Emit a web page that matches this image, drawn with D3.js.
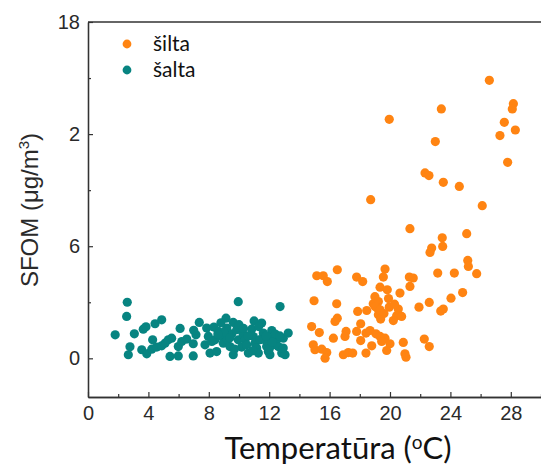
<!DOCTYPE html>
<html>
<head>
<meta charset="utf-8">
<script src="https://cdn.jsdelivr.net/npm/d3@7/dist/d3.min.js"></script>
<style>
  body { margin: 0; background: #fff; }
  svg { display: block; }
</style>
</head>
<body>
<script>
const width = 541
const height = 465

// šilta (warm) points: [temperature, SFOM]
const siltaTemp = [26.58, 28.17, 28.10, 23.40, 19.95, 27.57, 28.30, 27.28, 23.00, 27.79,
  22.32, 22.58, 23.53, 24.59, 18.72, 26.11, 21.32, 23.46, 25.08, 22.76,
  22.65, 23.49, 25.15, 25.19, 25.74, 24.26, 23.16, 15.15, 15.58, 15.85,
  16.51, 17.79, 18.19, 19.67, 19.56, 21.28, 21.54, 21.32, 19.34, 19.82,
  20.66, 24.81, 24.04, 22.60, 21.92, 23.53, 23.36, 14.97, 16.47, 18.89,
  19.23, 19.16, 19.95, 20.55, 18.46, 17.86, 19.23, 19.38, 20.44, 20.77,
  20.22, 16.51, 16.36, 18.06, 14.81, 15.32, 17.79, 18.41, 18.68, 19.07,
  19.34, 19.67, 17.09, 17.02, 16.25, 18.06, 19.45, 20.00, 20.88, 22.27,
  22.60, 18.79, 14.92, 15.03, 15.48, 15.81, 15.70, 16.91, 17.24, 17.53,
  18.41, 19.78, 20.99, 21.06, 19.01, 19.34, 19.60, 19.90, 20.30, 19.00]
const siltaSfom = [14.88, 13.63, 13.35, 13.35, 12.79, 12.63, 12.22, 11.92, 11.60, 10.49,
  9.92, 9.78, 9.42, 9.20, 8.49, 8.17, 6.94, 6.45, 6.67, 5.90,
  5.67, 5.99, 5.24, 4.92, 4.53, 4.56, 4.56, 4.42, 4.42, 4.11,
  4.74, 4.35, 4.11, 4.78, 4.35, 4.35, 4.30, 3.85, 3.81, 3.67,
  3.49, 3.52, 3.22, 2.99, 2.74, 2.64, 2.53, 3.08, 2.92, 2.92,
  3.04, 2.69, 2.74, 2.64, 2.56, 2.51, 2.33, 2.10, 2.28, 2.24,
  2.02, 2.15, 1.97, 1.85, 1.70, 1.38, 1.44, 1.35, 1.49, 1.31,
  1.17, 1.08, 1.44, 1.17, 1.08, 0.95, 0.90, 0.78, 0.85, 1.03,
  0.63, 0.67, 0.72, 0.46, 0.49, 0.31, 0.01, 0.19, 0.31, 0.28,
  0.28, 0.42, 0.24, 0.06, 2.77, 2.60, 2.40, 3.20, 2.90, 3.30]

// šalta (cold) points
const saltaTemp = [1.80, 2.60, 2.56, 2.67, 2.78, 3.07, 3.66, 3.84, 3.56, 3.89,
  4.44, 4.88, 4.28, 4.22, 4.55, 4.88, 5.10, 5.32, 5.54, 5.43,
  5.98, 5.98, 6.21, 6.54, 6.97, 6.97, 7.15, 7.37, 7.75, 7.86,
  7.97, 8.08, 8.34, 8.41, 8.52, 8.63, 8.85, 8.96, 9.14, 9.19,
  9.23, 9.40, 9.52, 9.62, 9.62, 9.85, 9.95, 9.95, 10.18, 10.28,
  10.40, 10.51, 10.62, 10.84, 10.95, 11.06, 11.17, 11.28, 11.50, 11.61,
  11.72, 11.83, 11.94, 12.17, 12.23, 12.27, 12.05, 12.50, 12.60, 12.72,
  12.83, 12.93, 13.05, 13.26, 12.93, 9.00, 10.60, 11.40, 12.40, 8.20,
  7.00, 6.10, 10.00, 11.00, 12.00, 9.70, 8.80, 10.30, 11.80, 12.70,
  9.40, 10.90, 11.30, 12.20, 8.60]
const saltaSfom = [1.26, 3.00, 2.24, 0.19, 0.62, 1.31, 1.56, 1.69, 0.46, 0.24,
  1.85, 2.06, 0.99, 0.49, 0.60, 0.67, 0.81, 0.99, 1.08, 0.10,
  0.13, 0.63, 0.90, 1.03, 0.78, 0.13, 1.26, 1.92, 0.72, 1.62,
  1.17, 0.28, 1.67, 0.99, 0.36, 1.44, 1.17, 0.81, 2.15, 1.62,
  0.99, 0.63, 1.31, 1.92, 0.19, 1.53, 3.03, 0.99, 0.60, 1.26,
  0.99, 0.72, 0.28, 1.56, 1.17, 0.81, 0.55, 0.28, 1.89, 1.35,
  0.99, 0.63, 0.36, 1.49, 1.08, 0.72, 0.19, 0.99, 0.63, 2.77,
  0.28, 1.08, 0.19, 1.35, 0.55, 1.40, 1.20, 1.00, 1.30, 0.90,
  1.50, 1.60, 1.80, 2.00, 0.50, 0.50, 1.90, 1.60, 1.20, 1.20,
  1.10, 0.40, 1.70, 0.85, 1.30]

const xMajor = [0, 4, 8, 12, 16, 20, 24, 28]
const xMinor = [2, 6, 10, 14, 18, 22, 26, 30]
const yMajor = [0, 6, 12, 18]
const yMajorLabels = ["0", "6", "2", "18"]
const yMinor = [3, 9, 15]

const seriesNames = ["šilta", "šalta"]
const seriesColors = ["#ff8412", "#078481"]

const svg = d3.select("body").append("svg")
    .attr("width", width)
    .attr("height", height);

const x = d3.scaleLinear().domain([0, 30]).range([88, 541]);
const y = d3.scaleLinear().domain([-2.07, 18]).range([397, 22]);

const axisColor = "#333";
const tickFont = "'Liberation Sans', Arial, sans-serif";

// x axis (ticks point inward)
svg.append("g").attr("transform", `translate(0,${y.range()[0]})`)
    .call(d3.axisBottom(x).tickValues(xMajor).tickSizeInner(-5).tickSizeOuter(0).tickPadding(9));
svg.append("g").attr("transform", `translate(0,${y.range()[0]})`)
    .call(d3.axisBottom(x).tickValues(xMinor).tickSizeInner(-3).tickSizeOuter(0).tickFormat(""));

// y axis
svg.append("g").attr("transform", `translate(${x.range()[0]},0)`)
    .call(d3.axisLeft(y).tickValues(yMajor).tickSizeInner(-5).tickSizeOuter(0).tickPadding(8)
      .tickFormat((d, i) => yMajorLabels[i]));
svg.append("g").attr("transform", `translate(${x.range()[0]},0)`)
    .call(d3.axisLeft(y).tickValues(yMinor).tickSizeInner(-3).tickSizeOuter(0).tickFormat(""));

svg.selectAll(".domain").attr("stroke", axisColor).attr("stroke-width", 1.3);
svg.selectAll(".tick line").attr("stroke", axisColor).attr("stroke-width", 1.2);
svg.selectAll(".tick text")
    .attr("font-family", tickFont)
    .attr("font-size", 20)
    .attr("fill", "#2a2a2a");

// top frame line
svg.append("line")
    .attr("x1", x.range()[0]).attr("x2", x.range()[1])
    .attr("y1", y(18)).attr("y2", y(18))
    .attr("stroke", axisColor).attr("stroke-width", 1.3);

// points
const saltaData = saltaTemp.map((t, i) => [t, saltaSfom[i]]);
const siltaData = siltaTemp.map((t, i) => [t, siltaSfom[i]]);

svg.append("g").selectAll("circle")
    .data(saltaData)
    .enter()
    .append("circle")
    .attr("cx", d => x(d[0]))
    .attr("cy", d => y(d[1]))
    .attr("r", 4.6)
    .attr("fill", seriesColors[1]);

svg.append("g").selectAll("circle")
    .data(siltaData)
    .enter()
    .append("circle")
    .attr("cx", d => x(d[0]))
    .attr("cy", d => y(d[1]))
    .attr("r", 4.6)
    .attr("fill", seriesColors[0]);

// legend
const legend = svg.append("g");
seriesNames.forEach((name, i) => {
    legend.append("circle")
        .attr("cx", 127).attr("cy", 44 + i * 26)
        .attr("r", 4.4)
        .attr("fill", seriesColors[i]);
    legend.append("text")
        .attr("x", 153).attr("y", 44 + i * 26)
        .attr("dy", "0.35em")
        .attr("font-family", "Lato, 'Open Sans', sans-serif")
        .attr("font-size", 21)
        .attr("fill", "#111")
        .text(name);
});

// axis titles
const yTitle = svg.append("text")
    .attr("transform", "translate(38,210) rotate(-90)")
    .attr("text-anchor", "middle")
    .attr("font-family", tickFont)
    .attr("font-size", 24)
    .attr("fill", "#2a2a2a");
yTitle.append("tspan").text("SFOM (μg/m");
yTitle.append("tspan").attr("dy", -9).attr("font-size", 15).text("3");
yTitle.append("tspan").attr("dy", 9).text(")");

const xTitle = svg.append("text")
    .attr("x", 338).attr("y", 459)
    .attr("text-anchor", "middle")
    .attr("font-family", "Lato, 'Open Sans', sans-serif")
    .attr("font-size", 31)
    .attr("fill", "#111");
xTitle.append("tspan").text("Temperatūra (");
xTitle.append("tspan").attr("dy", -10).attr("font-size", 19).text("o");
xTitle.append("tspan").attr("dy", 10).text("C)");
</script>
</body>
</html>
